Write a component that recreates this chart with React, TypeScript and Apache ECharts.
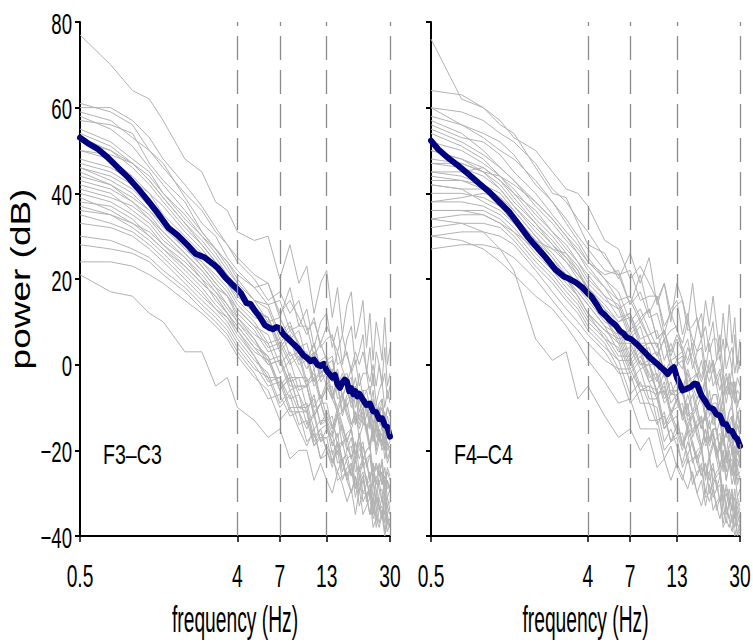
import React, { useEffect, useRef } from "react";
import * as echarts from "echarts";

// frequency grid (Hz) of the individual spectra
const FREQ = [0.5, 0.75, 1, 1.25, 1.5, 2, 2.5, 3, 3.5, 4, 5, 6, 7, 8, 9, 10, 11, 12, 13, 14, 15, 16, 17, 18, 19, 20, 21, 22, 23, 24, 25, 26, 27, 28, 29, 30];

// frequency grid (Hz) of the group-mean spectra
const MEAN_FREQ = [0.5, 0.55, 0.63, 0.72, 0.82, 0.94, 1.07, 1.22, 1.4, 1.6, 1.82, 2.07, 2.3, 2.6, 2.9, 3.1, 3.4, 3.7, 4, 4.2, 4.5, 4.75, 5, 5.4, 5.75, 6.1, 6.4, 6.7, 7, 7.3, 7.6, 8, 8.5, 9, 9.5, 10, 10.5, 11, 11.5, 12, 12.5, 13, 13.5, 14, 14.5, 15, 15.5, 16, 16.5, 17, 17.5, 18, 18.5, 19, 19.5, 20, 21, 22, 23, 24, 25, 26, 27, 28, 29, 30];

const F3C3_MEAN = [53, 51.8, 50.4, 48.4, 46.1, 43.8, 41.2, 38.4, 35.3, 32, 30.2, 27.9, 25.9, 25, 23.5, 22.5, 20.4, 18.9, 17.6, 16.6, 14.4, 14.2, 12.8, 11, 9.2, 8.6, 8.3, 8.8, 8.5, 7.2, 6.5, 5.6, 4.6, 3.6, 2.3, 1.6, 0.8, 1.2, 0, -0.3, 0.2, -1.4, -2.2, -3, -2.4, -4.6, -5.4, -4.2, -3.5, -4, -6.2, -5.5, -6.9, -6.2, -7.4, -6.8, -8.2, -9.4, -9.1, -10.9, -11.1, -12.7, -12.5, -14.1, -14.6, -16.8];

const F4C4_MEAN = [52.3, 50.3, 48.2, 46.4, 44.5, 42.4, 40.5, 38.2, 35.8, 32.7, 29.6, 27, 24.9, 22.2, 20.6, 20.1, 19.2, 18.1, 16.6, 15.8, 14, 12.4, 11.6, 10.2, 9.3, 7.9, 7.3, 6.3, 6.1, 5.5, 4.9, 4, 2.9, 1.8, 1, 0.2, -0.6, -1.3, -2.2, -1.2, -0.6, -3, -4.5, -6, -5.8, -5.5, -5.3, -4.8, -4.4, -4.6, -6, -7.2, -7.9, -8.6, -9.4, -10, -10.3, -11.6, -11.9, -13.8, -13.9, -15.4, -15.5, -16.8, -17.4, -19];

const F3C3_SUBJECTS: number[][] = [
  [77, 70, 64, 62, 57, 48, 45, 38, 36, 31, 29, 30, 20, 28, 19, 23, 12, 19, 22, 11, 18, 7, 14, 17, 6, 10, 15, 4, 12, 1, 10, 6, 1, 11, 0, 4],
  [61, 59, 56, 50, 46, 40, 36, 31, 28, 24, 20, 15, 17, 12, 15, 8, 10, 5, 9, 6, 3, 7, 2, -1, 3, 0, 3, -1, -4, 0, -5, 0, -5, -2, -8, -5],
  [60, 60, 57, 53, 48, 42, 37, 32, 28, 25, 21, 19, 12, 15, 11, 7, 11, 4, 6, 7, 0, 1, 3, -2, 1, -5, -2, -2, -7, -2, -9, -6, -4, -10, -6, -9],
  [59, 57, 53, 50, 47, 39, 33, 30, 25, 22, 18, 14, 15, 8, 9, 9, 2, 5, 1, -2, 3, -1, -4, -1, -8, -2, -8, -6, -5, -11, -9, -12, -8, -14, -10, -12],
  [57, 56, 54, 47, 43, 38, 31, 27, 24, 20, 15, 14, 7, 10, 4, 5, -1, 1, 2, -4, -1, -8, -4, -3, -10, -8, -6, -12, -9, -14, -10, -13, -15, -11, -16, -15],
  [55, 52, 48, 45, 40, 35, 30, 26, 22, 19, 15, 10, 11, 6, 8, 1, 3, -3, 1, -2, -5, -2, -6, -9, -6, -9, -6, -10, -14, -9, -14, -10, -14, -12, -17, -15],
  [53, 50, 46, 42, 38, 32, 28, 24, 21, 17, 13, 11, 4, 7, 3, -1, 3, -4, -2, -1, -8, -7, -5, -10, -7, -13, -10, -10, -15, -10, -17, -14, -12, -18, -14, -17],
  [50, 48, 44, 40, 37, 31, 27, 23, 19, 16, 12, 8, 9, 2, 3, 3, -4, -1, -5, -8, -3, -7, -10, -7, -14, -8, -14, -12, -11, -17, -15, -18, -14, -20, -16, -18],
  [48, 46, 43, 40, 35, 30, 26, 22, 19, 15, 11, 10, 3, 6, 0, 1, -5, -3, -2, -8, -5, -12, -8, -7, -14, -12, -10, -16, -13, -18, -14, -17, -19, -15, -20, -19],
  [47, 45, 42, 38, 34, 29, 24, 21, 18, 14, 10, 5, 6, 1, 3, -4, -2, -8, -4, -7, -10, -7, -11, -14, -11, -14, -11, -15, -19, -14, -19, -15, -19, -17, -22, -20],
  [46, 44, 41, 37, 33, 27, 24, 20, 17, 13, 9, 7, 0, 3, -1, -5, -1, -8, -6, -5, -12, -11, -9, -14, -11, -17, -14, -14, -19, -14, -21, -18, -16, -22, -18, -21],
  [45, 42, 39, 36, 33, 28, 23, 19, 16, 12, 8, 3, 4, -3, -3, -3, -10, -7, -12, -15, -10, -14, -18, -15, -21, -16, -22, -20, -19, -26, -24, -26, -23, -29, -25, -27],
  [44, 42, 38, 35, 31, 26, 22, 18, 16, 11, 7, 5, -2, 1, -6, -5, -11, -9, -9, -15, -12, -19, -16, -15, -21, -20, -18, -24, -21, -27, -23, -25, -28, -24, -29, -28],
  [43, 41, 38, 34, 30, 25, 21, 17, 14, 10, 6, 0, 1, -4, -3, -10, -8, -14, -11, -14, -17, -14, -19, -22, -18, -22, -19, -23, -27, -23, -28, -23, -28, -26, -31, -29],
  [42, 40, 36, 33, 29, 25, 20, 17, 13, 10, 5, 2, -5, -2, -7, -11, -7, -14, -13, -12, -19, -18, -17, -22, -18, -25, -22, -22, -27, -23, -30, -26, -25, -31, -27, -30],
  [40, 38, 35, 32, 28, 23, 19, 16, 12, 9, 4, 0, 1, -6, -5, -5, -12, -9, -13, -16, -11, -15, -18, -15, -22, -16, -22, -20, -19, -25, -23, -26, -22, -28, -24, -26],
  [38, 37, 34, 30, 27, 22, 18, 14, 11, 8, 3, 1, -6, -3, -10, -9, -15, -13, -13, -19, -16, -23, -20, -19, -25, -24, -22, -28, -25, -31, -27, -29, -32, -28, -33, -32],
  [36, 35, 32, 29, 26, 21, 17, 13, 11, 7, 2, -4, -3, -8, -7, -14, -12, -18, -15, -18, -21, -18, -23, -26, -22, -26, -23, -27, -31, -27, -32, -27, -32, -30, -35, -33],
  [35, 33, 31, 28, 25, 20, 16, 13, 10, 6, 1, -2, -9, -6, -11, -15, -11, -18, -17, -16, -23, -22, -21, -26, -22, -29, -26, -26, -31, -27, -34, -30, -29, -35, -31, -34],
  [33, 32, 30, 27, 24, 19, 15, 12, 9, 5, 0, -5, -4, -11, -11, -11, -18, -15, -20, -23, -18, -22, -26, -23, -29, -24, -30, -28, -27, -34, -32, -34, -31, -37, -33, -35],
  [30, 29, 27, 25, 22, 18, 14, 11, 8, 4, -1, -3, -10, -7, -14, -13, -19, -17, -17, -23, -20, -27, -24, -23, -29, -28, -26, -32, -29, -35, -31, -33, -36, -32, -37, -36],
  [28, 27, 26, 24, 21, 17, 13, 10, 7, 3, -2, -8, -7, -12, -11, -18, -16, -22, -19, -22, -25, -22, -27, -30, -26, -30, -27, -31, -35, -31, -36, -31, -36, -34, -39, -37],
  [24, 24, 23, 21, 19, 15, 12, 9, 6, 2, -3, -6, -13, -10, -15, -19, -15, -22, -21, -20, -27, -26, -25, -30, -26, -33, -30, -30, -35, -31, -38, -34, -33, -39, -35, -38],
  [21, 17, 16, 12, 10, 3, 3, -5, -3, -10, -13, -17, -15, -22, -20, -20, -27, -23, -27, -30, -25, -28, -32, -29, -35, -29, -35, -33, -31, -38, -36, -38, -35, -40, -37, -38],
  [52, 50, 47, 43, 39, 33, 28, 24, 20, 17, 12, 11, 4, 7, 1, 2, -4, -2, -1, -7, -4, -11, -7, -6, -13, -11, -9, -15, -12, -17, -13, -16, -18, -14, -19, -18],
  [58, 55, 51, 46, 42, 36, 31, 27, 23, 19, 15, 13, 6, 9, 5, 1, 5, -2, 0, 1, -6, -5, -3, -8, -5, -11, -8, -8, -13, -8, -15, -12, -10, -16, -12, -15],
  [50, 49, 47, 44, 40, 34, 30, 27, 24, 21, 18, 19, 11, 18, 9, 13, 4, 10, 12, 4, 9, 0, 6, 9, 0, 3, 7, -2, 4, -5, 3, 0, -4, 4, -5, -2],
  [39, 36, 33, 31, 28, 24, 20, 15, 12, 8, 2, -3, -3, -10, -10, -11, -19, -16, -20, -24, -19, -23, -27, -24, -31, -26, -32, -30, -29, -36, -34, -37, -34, -39, -36, -38],
  [46, 43, 40, 36, 32, 27, 23, 19, 16, 13, 9, 4, 5, 0, 2, -5, -3, -9, -5, -8, -11, -8, -12, -15, -12, -15, -12, -16, -20, -15, -20, -16, -20, -18, -23, -21],
  [41, 39, 37, 34, 31, 26, 22, 18, 14, 11, 6, 1, 2, -5, -5, -5, -12, -9, -14, -17, -12, -16, -20, -17, -23, -18, -24, -22, -21, -28, -26, -28, -25, -31, -27, -29],
  [54, 51, 47, 43, 39, 33, 29, 25, 21, 18, 13, 11, 5, 8, 5, 1, 5, -1, 1, 2, -5, -3, -2, -7, -3, -9, -6, -6, -10, -6, -13, -9, -8, -13, -10, -12],
  [37, 35, 33, 30, 27, 23, 19, 16, 12, 9, 4, 2, -6, -3, -10, -10, -17, -15, -14, -21, -18, -25, -22, -21, -28, -27, -25, -31, -28, -34, -30, -33, -36, -31, -37, -36],
];

const F4C4_SUBJECTS: number[][] = [
  [76, 62, 60, 56, 54, 46, 40, 39, 33, 28, 26, 20, 26, 19, 25, 14, 19, 10, 19, 15, 10, 19, 10, 6, 15, 9, 16, 9, 3, 12, 4, 14, 5, 11, 0, 6],
  [64, 63, 60, 57, 53, 50, 45, 41, 40, 37, 29, 27, 20, 23, 19, 15, 19, 12, 14, 15, 8, 9, 11, 6, 9, 3, 6, 6, 1, 6, -1, 2, 4, -2, 2, -1],
  [60, 59, 57, 54, 52, 47, 41, 38, 34, 31, 25, 21, 22, 15, 16, 16, 9, 12, 8, 5, 10, 6, 3, 6, -1, 5, -1, 1, 2, -4, -2, -5, -1, -7, -3, -5],
  [58, 56, 54, 52, 49, 42, 38, 34, 30, 27, 22, 21, 14, 17, 11, 12, 6, 8, 9, 3, 6, -1, 3, 4, -3, -1, 1, -5, -2, -7, -3, -6, -8, -4, -9, -8],
  [56, 53, 52, 49, 45, 40, 35, 31, 28, 24, 20, 15, 16, 11, 13, 6, 8, 2, 6, 3, 0, 3, -1, -4, -1, -4, -1, -5, -9, -4, -9, -5, -9, -7, -12, -10],
  [55, 52, 49, 46, 43, 37, 33, 29, 26, 22, 18, 15, 8, 11, 6, 2, 6, -1, 0, 1, -6, -5, -4, -9, -5, -12, -9, -9, -14, -10, -17, -13, -12, -18, -14, -17],
  [54, 51, 48, 44, 40, 36, 31, 28, 24, 21, 16, 11, 12, 5, 5, 5, -2, 1, -4, -7, -2, -6, -10, -7, -13, -8, -14, -12, -11, -18, -16, -18, -15, -21, -17, -19],
  [50, 48, 46, 43, 40, 34, 30, 26, 23, 19, 15, 13, 6, 9, 2, 3, -3, -1, -1, -7, -4, -11, -8, -7, -13, -12, -10, -16, -13, -19, -15, -17, -20, -16, -21, -20],
  [48, 47, 45, 42, 38, 33, 29, 25, 22, 18, 13, 7, 8, 3, 4, -3, -1, -7, -4, -7, -10, -7, -12, -15, -11, -15, -12, -16, -20, -16, -21, -16, -21, -19, -24, -22],
  [47, 46, 44, 41, 37, 31, 27, 24, 20, 17, 12, 9, 2, 5, 0, -4, 0, -7, -6, -5, -12, -11, -10, -15, -11, -18, -15, -15, -20, -16, -23, -19, -18, -24, -20, -23],
  [45, 44, 42, 40, 36, 30, 26, 22, 19, 16, 11, 6, 7, 0, 0, 0, -7, -4, -9, -12, -7, -11, -15, -12, -18, -13, -19, -17, -16, -23, -21, -23, -20, -26, -22, -24],
  [43, 43, 42, 39, 35, 29, 25, 21, 18, 15, 10, 8, 1, 4, -3, -2, -8, -6, -6, -12, -9, -16, -13, -12, -18, -17, -15, -21, -18, -24, -20, -22, -25, -21, -26, -25],
  [42, 41, 41, 38, 34, 28, 24, 20, 17, 14, 9, 3, 4, -1, 0, -7, -5, -11, -8, -11, -14, -11, -16, -19, -15, -19, -16, -20, -24, -20, -25, -20, -25, -23, -28, -26],
  [40, 40, 39, 37, 33, 27, 23, 19, 16, 12, 8, 5, -2, 1, -4, -8, -4, -11, -10, -9, -16, -15, -14, -19, -15, -22, -19, -19, -24, -20, -27, -23, -22, -28, -24, -27],
  [38, 38, 37, 35, 32, 26, 22, 18, 15, 11, 7, 2, 2, -5, -5, -6, -14, -11, -15, -19, -14, -18, -22, -19, -26, -21, -27, -25, -24, -31, -29, -32, -29, -34, -31, -33],
  [36, 36, 36, 34, 31, 25, 21, 17, 14, 10, 6, 4, -4, -1, -8, -8, -15, -13, -12, -19, -16, -23, -20, -19, -26, -25, -23, -29, -26, -32, -28, -31, -34, -29, -35, -34],
  [34, 35, 35, 33, 30, 24, 20, 16, 13, 9, 5, -1, -1, -6, -5, -13, -12, -18, -14, -18, -21, -18, -23, -26, -23, -27, -24, -28, -32, -28, -33, -29, -34, -31, -37, -35],
  [32, 33, 33, 32, 29, 23, 19, 15, 12, 8, 4, 1, -7, -4, -9, -14, -11, -18, -16, -16, -23, -22, -21, -26, -23, -30, -27, -27, -32, -28, -35, -32, -31, -36, -33, -36],
  [30, 31, 31, 30, 28, 22, 17, 13, 10, 7, 3, -2, -2, -9, -9, -10, -18, -15, -19, -23, -18, -22, -26, -23, -30, -25, -31, -29, -28, -35, -33, -36, -33, -38, -35, -37],
  [27, 28, 28, 27, 25, 20, 15, 11, 8, 5, 1, -1, -9, -6, -13, -13, -20, -18, -17, -24, -21, -28, -25, -24, -31, -30, -28, -34, -31, -37, -33, -36, -39, -34, -40, -39],
  [34, 33, 31, 27, 22, 6, 1, 3, -8, -5, -12, -17, -15, -20, -17, -24, -22, -27, -23, -26, -29, -25, -30, -33, -29, -32, -29, -33, -36, -32, -37, -32, -37, -34, -40, -37],
  [52, 50, 47, 44, 41, 35, 31, 27, 24, 20, 16, 14, 7, 10, 6, 2, 6, -1, 1, 2, -5, -4, -2, -7, -4, -10, -7, -7, -12, -7, -14, -11, -9, -15, -11, -14],
  [45, 45, 46, 43, 39, 33, 28, 25, 21, 18, 13, 10, 12, 6, 7, 8, 1, 5, 1, -1, 4, 1, -3, 1, -5, 1, -5, -3, -1, -8, -5, -7, -4, -9, -6, -7],
  [38, 39, 40, 39, 36, 30, 25, 20, 16, 12, 6, 1, 1, -6, -6, -7, -15, -12, -16, -20, -15, -19, -23, -20, -27, -22, -28, -26, -25, -32, -30, -33, -30, -35, -32, -34],
  [42, 41, 38, 36, 33, 29, 27, 26, 22, 17, 11, 5, 5, 0, 1, -7, -6, -12, -8, -12, -15, -12, -17, -20, -17, -21, -18, -22, -26, -22, -27, -23, -28, -25, -31, -29],
  [60, 56, 53, 50, 48, 43, 38, 33, 29, 25, 20, 17, 10, 13, 8, 4, 8, 1, 2, 3, -4, -3, -2, -7, -3, -10, -7, -7, -12, -8, -15, -11, -10, -16, -12, -15],
  [30, 29, 27, 24, 21, 16, 13, 9, 5, 1, -4, -9, -8, -15, -15, -15, -22, -19, -24, -27, -22, -26, -30, -27, -33, -28, -34, -32, -31, -38, -36, -38, -35, -40, -37, -39],
  [47, 47, 45, 44, 42, 38, 34, 30, 27, 24, 21, 22, 14, 21, 12, 16, 7, 13, 15, 7, 12, 3, 9, 12, 3, 6, 10, 1, 7, -2, 6, 3, -1, 7, -2, 1],
  [50, 48, 45, 41, 37, 32, 28, 24, 21, 18, 14, 10, 11, 4, 5, 5, -2, 1, -3, -6, -1, -5, -8, -5, -12, -6, -12, -10, -9, -15, -13, -16, -12, -18, -14, -16],
  [44, 43, 41, 38, 35, 29, 24, 20, 17, 14, 9, 7, 0, 3, -4, -3, -9, -7, -7, -13, -10, -17, -14, -13, -19, -18, -16, -22, -19, -25, -21, -23, -26, -22, -27, -26],
  [36, 36, 35, 33, 31, 27, 23, 20, 16, 12, 8, 6, -1, 2, -2, -6, -2, -9, -7, -6, -13, -12, -10, -15, -12, -18, -15, -15, -20, -15, -22, -19, -17, -23, -19, -22],
  [57, 54, 50, 46, 43, 38, 34, 30, 26, 23, 18, 13, 15, 10, 13, 6, 8, 3, 7, 4, 1, 5, 0, -3, 1, -2, 1, -3, -6, -2, -7, -2, -7, -4, -10, -7],
];

const X_TICKS = [0.5, 4, 7, 13, 30];
const BAND_EDGES = [4, 7, 13, 30];
const Y_MIN = -40;
const Y_MAX = 80;
const Y_STEP = 20;
const Y_TICKS = [-40, -20, 0, 20, 40, 60, 80];
const PANEL_LABELS = ["F3\u2013C3", "F4\u2013C4"];
const X_TITLE = "frequency (Hz)";
const Y_TITLE = "power (dB)";

const GREY = "#b2b2b2";
const NAVY = "#000080";
const SANS = "'Liberation Sans', Arial, Helvetica, sans-serif";

const pair = (xs: number[], ys: number[]) => xs.map((x, i) => [x, ys[i]]);
const fmtY = (v: number) => (v < 0 ? "\u2212" + Math.abs(v) : String(v));

const txt = (text: string, x: number, y: number, size: number, align: string, sx: number, sy = 1, rot = 0) => ({
  type: "text",
  x,
  y,
  rotation: rot,
  scaleX: sx,
  scaleY: sy,
  silent: true,
  style: {
    text,
    fontSize: size,
    fontFamily: SANS,
    fill: "#000",
    align,
    verticalAlign: "middle",
    textAlign: align,
    textVerticalAlign: "middle",
  },
});

export default function App() {
  const ref = useRef<HTMLDivElement>(null);

  useEffect(() => {
    if (!ref.current) return;
    const chart = echarts.init(ref.current, undefined, { renderer: "svg" });

    const panels = [F3C3_SUBJECTS, F4C4_SUBJECTS];
    const means = [F3C3_MEAN, F4C4_MEAN];
    const series: any[] = [];
    panels.forEach((subs, p) => {
      subs.forEach((ys, k) => {
        const s: any = {
          type: "line",
          xAxisIndex: p,
          yAxisIndex: p,
          data: pair(FREQ, ys),
          showSymbol: false,
          symbol: "none",
          silent: true,
          lineStyle: { color: GREY, width: 1 },
          z: 2,
        };
        if (k === subs.length - 1) {
          s.markLine = {
            silent: true,
            symbol: ["none", "none"],
            label: { show: false },
            lineStyle: { color: "#8a8a8a", width: 1.3, type: [24, 10] },
            data: BAND_EDGES.map((f) => ({ xAxis: f })),
          };
        }
        series.push(s);
      });
      series.push({
        type: "line",
        xAxisIndex: p,
        yAxisIndex: p,
        data: pair(MEAN_FREQ, means[p]),
        showSymbol: false,
        symbol: "none",
        silent: true,
        lineStyle: { color: NAVY, width: 6, join: "round", cap: "round" },
        z: 4,
      });
    });

    const grids = [
      { left: 80, top: 22, width: 310, height: 514 },
      { left: 431, top: 22, width: 309, height: 514 },
    ];

    const option: any = {
      animation: false,
      backgroundColor: "#ffffff",
      grid: grids,
      xAxis: [0, 1].map((i) => ({
        type: "log",
        logBase: 10,
        gridIndex: i,
        min: 0.5,
        max: 30,
        axisLine: { show: true, onZero: false, lineStyle: { color: "#000", width: 2 } },
        axisTick: { show: true, customValues: X_TICKS, length: 6, lineStyle: { color: "#000", width: 1.5 } },
        axisLabel: { show: false, customValues: X_TICKS },
        splitLine: { show: false },
        minorTick: { show: false },
        minorSplitLine: { show: false },
      })),
      yAxis: [0, 1].map((i) => ({
        type: "value",
        gridIndex: i,
        min: Y_MIN,
        max: Y_MAX,
        interval: Y_STEP,
        axisLine: { show: true, onZero: false, lineStyle: { color: "#000", width: 2 } },
        axisTick: { show: true, length: 5, lineStyle: { color: "#000", width: 2 } },
        axisLabel: { show: false },
        splitLine: { show: false },
      })),
      series,
    };

    chart.setOption(option);

    // tick labels and titles, placed with the axes' own scales
    const g: any[] = [];
    [0, 1].forEach((i) => {
      const yBottom = chart.convertToPixel({ yAxisIndex: i }, Y_MIN) as number;
      const yTop = chart.convertToPixel({ yAxisIndex: i }, Y_MAX) as number;
      const xLeft = chart.convertToPixel({ xAxisIndex: i }, X_TICKS[0]) as number;
      const xRight = chart.convertToPixel({ xAxisIndex: i }, X_TICKS[X_TICKS.length - 1]) as number;
      X_TICKS.forEach((t) => {
        const px = chart.convertToPixel({ xAxisIndex: i }, t) as number;
        g.push(txt(String(t), px, yBottom + 40.5, 31, "center", 0.62));
      });
      if (i === 0) {
        Y_TICKS.forEach((v) => {
          const py = chart.convertToPixel({ yAxisIndex: 0 }, v) as number;
          g.push(txt(fmtY(v), xLeft - 8, py + 1, 30, "right", 0.62));
        });
        g.push(txt(Y_TITLE, 20, (yTop + yBottom) / 2, 37, "center", 1, 0.75, Math.PI / 2));
      }
      g.push(txt(X_TITLE, (xLeft + xRight) / 2, yBottom + 83, 37, "center", 0.52));
      const labY = chart.convertToPixel({ yAxisIndex: i }, -21) as number;
      g.push(txt(PANEL_LABELS[i], xLeft + 23, labY, 28, "left", 0.7));
    });
    chart.setOption({ graphic: g });

    return () => chart.dispose();
  }, []);

  return (
    <div
      ref={ref}
      style={{ position: "fixed", left: 0, top: 0, width: 753, height: 642, background: "#fff" }}
    />
  );
}
